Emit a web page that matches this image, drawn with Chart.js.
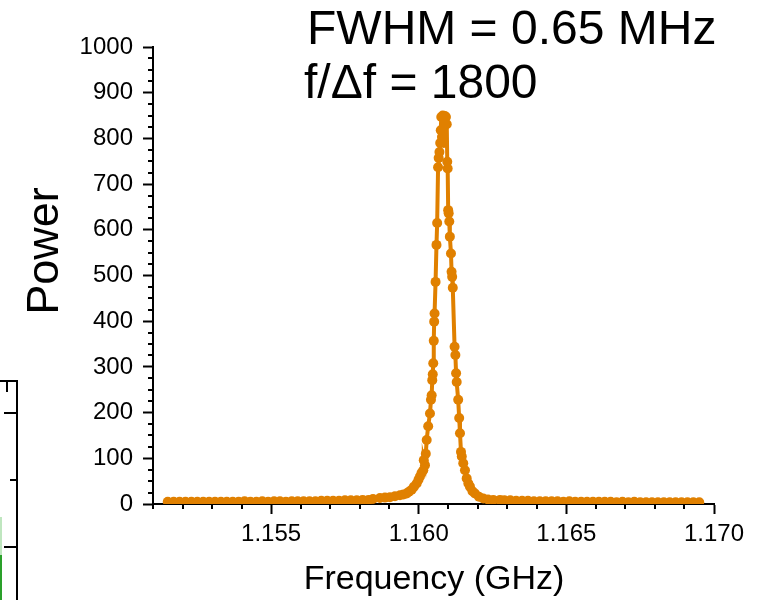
<!DOCTYPE html>
<html><head><meta charset="utf-8">
<script src="https://cdn.jsdelivr.net/npm/chart.js@4/dist/chart.umd.min.js"></script>
<style>html,body{margin:0;padding:0;background:#fff;}#wrap{position:relative;width:758px;height:600px;}</style>
</head><body><div id="wrap"><canvas id="c" width="758" height="600"></canvas></div>
<script>
// ---- data ----
const freqGHz = [
  1.1515,1.1517,1.1519,1.1521,1.1523,1.1525,1.1527,1.1529,1.1531,1.1533,1.1535,1.1537,1.1539,1.1541,1.1543,1.1545,1.1547,1.1549,
  1.1551,1.1553,1.1555,1.1557,1.1559,1.1561,1.1563,1.1565,1.1567,1.1569,1.1571,1.1573,1.1575,1.1577,1.1579,1.1581,1.1583,
  1.158450,1.158687,1.158857,1.159026,1.159195,1.159365,1.159483,1.159592,1.159669,1.159761,1.159839,1.159930,1.159991,
  1.160042,1.160093,1.160154,1.160171,1.160211,1.160239,1.160269,1.160320,1.160381,1.160414,1.160438,1.160458,1.160475,
  1.160492,1.160509,1.160523,1.160536,1.160570,1.160601,1.160624,1.160655,1.160675,1.160702,1.160726,1.160746,1.160763,
  1.160787,1.160814,1.160848,1.160888,1.160922,1.160949,1.160966,1.160980,1.160997,1.161014,1.161034,1.161054,1.161092,
  1.161112,1.161132,1.161153,1.161214,1.161241,1.161265,1.161285,1.161336,1.161370,1.161397,1.161431,1.161458,1.161508,
  1.161566,1.161624,1.161681,1.161735,1.161820,1.161904,1.162040,1.162186,1.162345,1.162524,1.162751,
  1.1629,1.1631,1.1633,1.1635,1.1637,1.1639,1.1641,1.1643,1.1645,1.1647,1.1649,1.1651,1.1653,1.1655,1.1657,1.1659,1.1661,
  1.1663,1.1665,1.1667,1.1669,1.1671,1.1673,1.1675,1.1677,1.1679,1.1681,1.1683,1.1685,1.1687,1.1689,1.1691,1.1693,1.1695
];
const power = [
  5,5,5,5,5,5,5,5,5,5,5,5,5,6,5,5,6,5,
  6,6,5,6,6,6,6,6,7,7,7,7,8,8,8,9,9,
  11,13,14,15,17,19,21,23,27,31,38,45,53,
  60,68,74,96,85,110,140,170,198,228,238,271,284,
  308,357,399,417,486,567,615,737,757,770,790,818,847,
  803,850,790,849,847,831,749,734,643,636,618,585,548,
  508,497,473,344,326,286,267,228,188,155,114,104,89,
  74,56,45,38,28,23,16,12,10,9,9,
  8,8,7,7,7,6,6,6,6,6,5,6,5,5,5,5,5,
  5,5,4,5,4,5,4,4,4,4,4,4,4,4,4,4,4
];
const xTickValues = [1.155, 1.160, 1.165, 1.170];
const yTickValues = [0,100,200,300,400,500,600,700,800,900,1000];
const xTitle = "Frequency (GHz)";
const yTitle = "Power";
const noteLines = ["FWHM = 0.65 MHz", "f/\u0394f = 1800"];

const FONT = '"Liberation Sans", Arial, sans-serif';
const ORANGE = '#E08000';

const extras = {
  id: 'extras',
  afterDraw(chart) {
    const ctx = chart.ctx;
    const xs = chart.scales.x, ys = chart.scales.y;
    const ax = chart.chartArea.left, ay = chart.chartArea.bottom;
    ctx.save();
    ctx.strokeStyle = '#000';
    ctx.lineWidth = 2;
    // minor ticks
    ctx.beginPath();
    for (let v = 25; v < 1000; v += 25) {
      if (v % 100 === 0) continue;
      const y = Math.round(ys.getPixelForValue(v));
      ctx.moveTo(ax - 5, y); ctx.lineTo(ax, y);
    }
    for (let k = 1151; k <= 1170; k++) {
      if (k % 5 === 0) continue;
      const x = Math.round(xs.getPixelForValue(k / 1000));
      ctx.moveTo(x, ay); ctx.lineTo(x, ay + 5);
    }
    ctx.stroke();
    // axis titles
    ctx.fillStyle = '#000';
    ctx.font = '34px ' + FONT;
    ctx.textAlign = 'center';
    ctx.textBaseline = 'alphabetic';
    ctx.fillText(xTitle, 434, 589);
    ctx.save();
    ctx.translate(58, 251);
    ctx.rotate(-Math.PI / 2);
    ctx.font = '45px ' + FONT;
    ctx.fillText(yTitle, 0, 0);
    ctx.restore();
    // notes
    ctx.font = '48px ' + FONT;
    ctx.textAlign = 'left';
    ctx.fillText(noteLines[0], 307, 44);
    ctx.fillText(noteLines[1], 304, 98);
    // fragment of neighbouring panel at left edge
    ctx.beginPath();
    ctx.moveTo(0, 381); ctx.lineTo(17, 381); ctx.lineTo(17, 600);
    ctx.moveTo(7, 381); ctx.lineTo(7, 392);
    ctx.moveTo(4, 413); ctx.lineTo(17, 413);
    ctx.moveTo(10, 480); ctx.lineTo(17, 480);
    ctx.moveTo(4, 547); ctx.lineTo(17, 547);
    ctx.stroke();
    ctx.fillStyle = '#bfe6bf';
    ctx.fillRect(0, 517, 2, 38);
    ctx.fillStyle = '#2aa02a';
    ctx.fillRect(0, 555, 2, 45);
    ctx.restore();
  }
};

new Chart(document.getElementById('c'), {
  type: 'line',
  data: {
    datasets: [{
      data: freqGHz.map((f, i) => ({ x: f, y: power[i] })),
      borderColor: ORANGE,
      backgroundColor: ORANGE,
      borderWidth: 4,
      pointRadius: 5,
      pointBorderWidth: 0,
      pointBackgroundColor: ORANGE,
      tension: 0,
      fill: false
    }]
  },
  options: {
    responsive: false,
    animation: false,
    events: [],
    layout: { padding: { top: 47, right: 44, left: 0, bottom: 0 } },
    plugins: { legend: { display: false }, tooltip: { enabled: false } },
    scales: {
      x: {
        type: 'linear', min: 1.151, max: 1.170,
        afterBuildTicks: s => { s.ticks = xTickValues.map(v => ({ value: v })); },
        afterFit: s => { s.height = 96; },
        ticks: { color: '#000', font: { family: FONT, size: 24 }, padding: 6, maxRotation: 0,
                 callback: v => Number(v).toFixed(3) },
        grid: { drawOnChartArea: false, drawTicks: true, tickLength: 10, tickWidth: 2, tickColor: '#000' },
        border: { display: true, color: '#000', width: 2 }
      },
      y: {
        type: 'linear', min: 0, max: 1000,
        afterBuildTicks: s => { s.ticks = yTickValues.map(v => ({ value: v })); },
        afterFit: s => { s.width = 153; },
        ticks: { color: '#000', font: { family: FONT, size: 24 }, padding: 10,
                 callback: v => String(v) },
        grid: { drawOnChartArea: false, drawTicks: true, tickLength: 10, tickWidth: 2, tickColor: '#000' },
        border: { display: true, color: '#000', width: 2 }
      }
    }
  },
  plugins: [extras]
});
</script>
</body></html>
